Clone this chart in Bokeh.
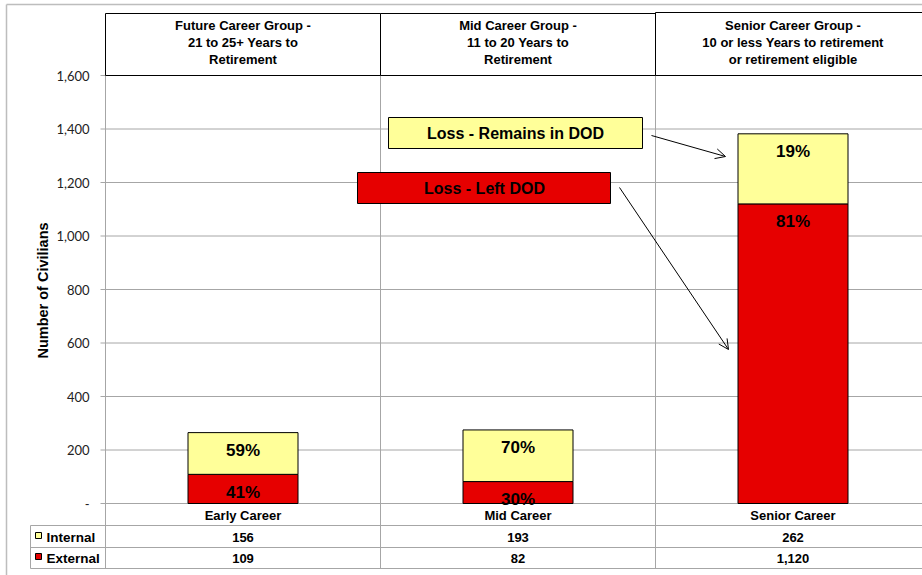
import math
from bokeh.plotting import figure
from bokeh.models import Range1d, Arrow, OpenHead, ColumnDataSource
from bokeh.core.properties import value
from bokeh.embed import file_html
from bokeh.resources import INLINE

# ---------------- data ----------------
categories = ["Early Career", "Mid Career", "Senior Career"]
group_titles = ["Future Career Group -\n21 to 25+ Years to\nRetirement",
                "Mid Career Group -\n11 to 20 Years to\nRetirement",
                "Senior Career Group -\n10 or less Years to retirement\nor retirement eligible"]
internal = [156, 193, 262]
external = [109, 82, 1120]
series_names = ["Internal", "External"]
y_ticks = [0, 200, 400, 600, 800, 1000, 1200, 1400, 1600]
callouts = ["Loss - Remains in DOD", "Loss - Left DOD"]
y_title = "Number of Civilians"

# ---------------- style / layout ----------------
YELLOW = "#ffff99"
RED = "#e60000"
GRID = "#a6a6a6"
FONT = "Liberation Sans"

W, H = 922, 575
PLOT_LEFT = 105.0         # page px of plot-area left edge
PX_PER_CAT = 275.0
PX_PER_UNIT = 428.0 / 1600.0
ZERO_Y = 503.0            # page px (from top) of value 0


def fx(px):
    return (px - PLOT_LEFT) / PX_PER_CAT


def fy(py):
    return (ZERO_Y - py) / PX_PER_UNIT


p = figure(width=W, height=H, x_range=Range1d(fx(0), fx(W)), y_range=Range1d(fy(H), fy(0)),
           output_backend="svg", toolbar_location=None, x_axis_type=None, y_axis_type=None,
           min_border_left=0, min_border_right=0, min_border_top=0, min_border_bottom=0)
p.outline_line_color = None
p.background_fill_color = "white"
p.border_fill_color = "white"
p.xgrid.visible = False
p.ygrid.visible = False

n = len(categories)
xs = [i + 0.5 for i in range(n)]
x_right = fx(W + 20)

# outer chart border
p.segment(x0=[fx(6), fx(6)], x1=[fx(6), x_right], y0=[fy(4), fy(4)], y1=[fy(H + 5), fy(4)],
          line_color="#bdbdbd", line_width=1.5)

# horizontal gridlines
p.segment(x0=[0] * (len(y_ticks) - 1), x1=[x_right] * (len(y_ticks) - 1),
          y0=y_ticks[1:], y1=y_ticks[1:], line_color=GRID, line_width=1)

# y axis (line, ticks, labels, title)
p.segment(x0=[0], x1=[0], y0=[fy(568)], y1=[y_ticks[-1]], line_color=GRID, line_width=1)
p.segment(x0=[fx(100)] * len(y_ticks), x1=[0] * len(y_ticks), y0=y_ticks, y1=y_ticks,
          line_color=GRID, line_width=1)
p.text(x=[0] * len(y_ticks), y=y_ticks,
       text=["-" if t == 0 else f"{t:,}" for t in y_ticks], x_offset=-16,
       text_align="right", text_baseline="middle", text_font=value("Lato"),
       text_font_size="13px", text_color="#222222")
p.text(x=[fx(42)], y=[fy(290)], text=[y_title], angle=math.pi / 2, text_align="center",
       text_baseline="middle", text_font=value(FONT), text_font_style="bold",
       text_font_size="14.5px", text_color="black")

# table grid
p.segment(x0=[0, fx(30), fx(30), fx(30)], x1=[x_right] * 4,
          y0=[0, fy(525), fy(547), fy(568)], y1=[0, fy(525), fy(547), fy(568)],
          line_color=GRID, line_width=1)
p.segment(x0=[1, 2, fx(30)], x1=[1, 2, fx(30)], y0=[fy(568)] * 3,
          y1=[y_ticks[-1], y_ticks[-1], fy(525)], line_color=GRID, line_width=1)

# header boxes
p.quad(left=[0, 1, 2], right=[1, 2, 3], bottom=[y_ticks[-1]] * 3,
       top=[fy(13), fy(13), fy(12)], fill_color="white", line_color="black", line_width=1)
p.text(x=xs, y=[fy(42)] * n, text=group_titles, text_align="center", text_baseline="middle",
       text_font=value(FONT), text_font_style="bold", text_font_size="13px",
       text_line_height=1.15, text_color="black")

# bars
totals = [a + b for a, b in zip(internal, external)]
src = ColumnDataSource(dict(
    x=xs, ext=external, tot=totals,
    pct_ext=[f"{round(100 * e / t)}%" for e, t in zip(external, totals)],
    pct_int=[f"{round(100 * i / t)}%" for i, t in zip(internal, totals)],
))
p.vbar(x="x", width=0.4, bottom=0, top="ext", fill_color=RED, line_color="black", source=src)
p.vbar(x="x", width=0.4, bottom="ext", top="tot", fill_color=YELLOW, line_color="black", source=src)
for col_y, col_t in (("ext", "pct_ext"), ("tot", "pct_int")):
    p.text(x="x", y=col_y, text=col_t, y_offset=18, text_align="center", text_baseline="middle",
           text_font=value(FONT), text_font_style="bold", text_font_size="17px",
           text_color="black", source=src)

# category labels + table values
p.text(x=xs, y=[fy(515)] * n, text=categories, text_align="center", text_baseline="middle",
       text_font=value(FONT), text_font_style="bold", text_font_size="13px", text_color="black")
p.text(x=xs, y=[fy(537)] * n, text=[f"{v:,}" for v in internal], text_align="center",
       text_baseline="middle", text_font=value(FONT), text_font_style="bold",
       text_font_size="13px", text_color="black")
p.text(x=xs, y=[fy(558)] * n, text=[f"{v:,}" for v in external], text_align="center",
       text_baseline="middle", text_font=value(FONT), text_font_style="bold",
       text_font_size="13px", text_color="black")

# legend column
p.quad(left=[fx(35)] * 2, right=[fx(41)] * 2, top=[fy(532), fy(553)], bottom=[fy(538), fy(559)],
       fill_color=[YELLOW, RED], line_color="black", line_width=1)
p.text(x=[fx(46)] * 2, y=[fy(537), fy(558)], text=series_names, text_align="left",
       text_baseline="middle", text_font=value(FONT), text_font_style="bold",
       text_font_size="13.5px", text_color="black")

# callout boxes
p.quad(left=[fx(388), fx(357)], right=[fx(642), fx(610)], top=[fy(117), fy(172)],
       bottom=[fy(148), fy(203)], fill_color=[YELLOW, RED], line_color="black", line_width=1)
p.text(x=[fx(515), fx(484)], y=[fy(133), fy(188)], text=callouts, text_align="center",
       text_baseline="middle", text_font=value(FONT), text_font_style="bold",
       text_font_size="16px", text_color="black")

for (x0, y0, x1, y1) in ((651, 135, 725, 156), (619, 187, 728, 349)):
    p.add_layout(Arrow(end=OpenHead(size=10, line_width=1, line_color="black"),
                       x_start=fx(x0), y_start=fy(y0), x_end=fx(x1), y_end=fy(y1),
                       line_color="black", line_width=1))

open("out.html", "w").write(file_html(p, INLINE))
